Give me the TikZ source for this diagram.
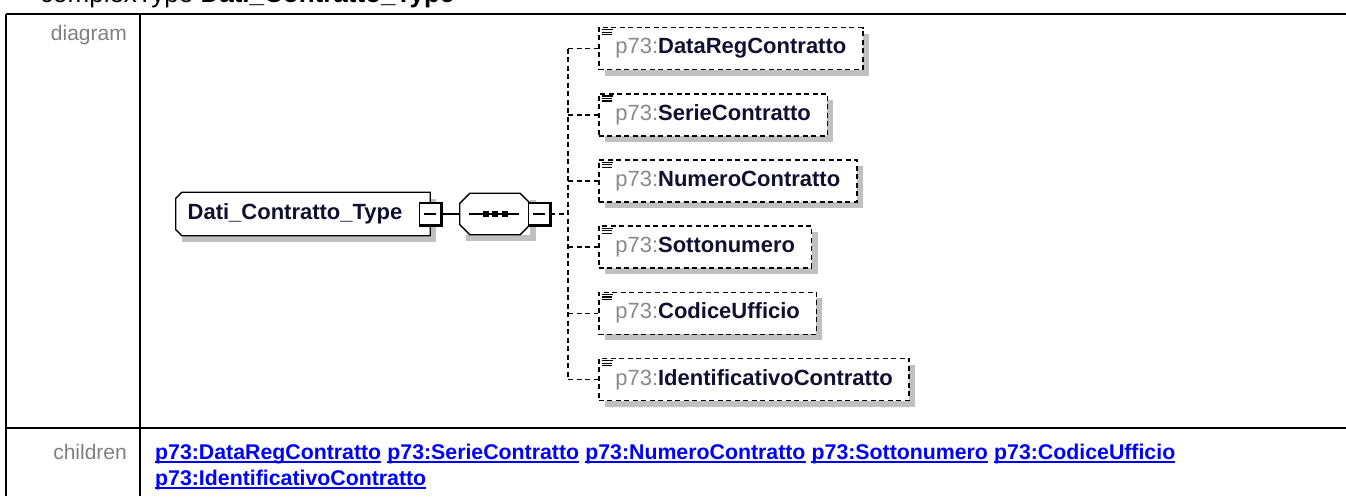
\documentclass[tikz,border=0pt]{standalone}
\usepackage{fontspec}
\setmainfont{Liberation Sans}
\usetikzlibrary{positioning,shadows}
\definecolor{shadowgray}{HTML}{C0C0C0}
\definecolor{labelgray}{HTML}{808080}
\definecolor{prefixgray}{HTML}{8A8A8A}
\definecolor{namedark}{HTML}{101030}
\definecolor{linkblue}{HTML}{0000FF}
\newcommand{\pfx}{{\color{prefixgray}\mdseries p73:}}
\begin{document}
\begin{tikzpicture}[x=1pt, y=-1pt,
  lbl/.style={inner sep=0, text=labelgray, font=\fontsize{21}{25}\selectfont},
  rootbox/.style={fill=white, inner sep=0, minimum width=254pt, minimum height=43pt,
    font=\fontsize{22}{26}\selectfont\bfseries, text=namedark,
    drop shadow={shadow xshift=6pt, shadow yshift=-6pt, fill=shadowgray, opacity=1}},
  seqbox/.style={fill=white, inner sep=0, minimum width=70pt, minimum height=41pt,
    drop shadow={shadow xshift=6pt, shadow yshift=-6pt, fill=shadowgray, opacity=1}},
  minusbox/.style={draw, line width=1.3pt, fill=white, inner sep=0, minimum width=21pt, minimum height=22pt},
  childbox/.style={draw, dashed, dash pattern=on 5pt off 3.5pt, line width=1.6pt, fill=white,
    inner xsep=16.5pt, inner ysep=0, minimum height=42pt, anchor=west,
    font=\fontsize{22}{26}\selectfont\bfseries, text=namedark,
    drop shadow={shadow xshift=6pt, shadow yshift=-6pt, fill=shadowgray, opacity=1}},
  conn/.style={dashed, dash pattern=on 5pt off 3.5pt, line width=1.6pt},
  lnk/.style={inner sep=0, text=linkblue, font=\fontsize{21.3}{25}\selectfont\bfseries}]
\useasboundingbox (0,0) rectangle (1346,496);
\fill[white] (0,0) rectangle (1346,496);

% table frame
\node[anchor=base west, inner sep=0, font=\fontsize{26}{30}\selectfont] (hdr) at (40,2.5) {complexType \textbf{Dati\_Contratto\_Type}};
\draw[line width=2.6pt] (6,14) -- (1346,14);
\draw[line width=2.6pt] (6,14) -- (6,496);
\draw[line width=2.6pt] (140,14) -- (140,496);
\draw[line width=2.6pt] (6,428) -- (1346,428);
\node[lbl, anchor=base east] (diaglbl) at (127,40) {diagram};
\node[lbl, anchor=base east] (chlbl) at (127,459) {children};

% root and sequence
\node[rootbox] (root) at (303,214) {Dati\_Contratto\_Type\kern16pt};
\draw[line width=1.3pt] ([xshift=6pt]root.north west) -- (root.north east) -- (root.south east)
  -- ([xshift=6pt]root.south west) -- ([yshift=6pt]root.south west) -- ([yshift=-6pt]root.north west) -- cycle;
\node[seqbox] (seq) at (495,214) {};
\draw[line width=1.3pt] ([xshift=10pt]seq.north west) -- ([xshift=-10pt]seq.north east) -- ([yshift=-10pt]seq.north east)
  -- ([yshift=10pt]seq.south east) -- ([xshift=-10pt]seq.south east) -- ([xshift=10pt]seq.south west)
  -- ([yshift=10pt]seq.south west) -- ([yshift=-10pt]seq.north west) -- cycle;
\draw[line width=1.3pt] ([xshift=9pt]seq.west) -- ([xshift=-11pt]seq.east);
\foreach \dx in {-9.5,0,9.5}
  \fill ([xshift=\dx pt]seq.center) +(-3pt,-3pt) rectangle +(3pt,3pt);
\node[minusbox] (rminus) at (430,214) {\rule{12pt}{1.5pt}};
\node[minusbox] (sminus) at (539,214) {\rule{12pt}{1.5pt}};
\foreach \m in {rminus,sminus}
  \draw[line width=1.5pt] ([xshift=1pt]\m.north east) -- ([xshift=1pt,yshift=-1pt]\m.south east) -- ([yshift=-1pt]\m.south west);
\draw[line width=1.3pt] (rminus.east) -- (seq.west);
\coordinate (bus) at (568,214);
\draw[conn] (sminus.east) -- (bus);

% children
\node[childbox] (c1) at (598,48.5) {\pfx DataRegContratto};
\node[childbox] (c2) at (598,114.7) {\pfx SerieContratto};
\node[childbox] (c3) at (598,180.9) {\pfx NumeroContratto};
\node[childbox] (c4) at (598,247.1) {\pfx Sottonumero};
\node[childbox] (c5) at (598,313.3) {\pfx CodiceUfficio};
\node[childbox] (c6) at (598,379.5) {\pfx IdentificativoContratto};
\draw[conn] (bus |- c1.west) -- (bus |- c6.west);
\foreach \i in {1,...,6} {
  \draw[conn] (bus |- c\i.west) -- (c\i.west);
  \foreach \dy/\len in {-3/11,-5.5/10,-8/10}
    \draw[line width=1.2pt] ([xshift=4pt,yshift=\dy pt]c\i.north west) -- ++(\len pt,0);
}

% links
\node[lnk, anchor=base west] (l1) at (155,459) {p73:DataRegContratto};
\node[lnk, base right=5.8pt of l1] (l2) {p73:SerieContratto};
\node[lnk, base right=5.8pt of l2] (l3) {p73:NumeroContratto};
\node[lnk, base right=5.8pt of l3] (l4) {p73:Sottonumero};
\node[lnk, base right=5.8pt of l4] (l5) {p73:CodiceUfficio};
\node[lnk, anchor=base west] (l6) at (155,485) {p73:IdentificativoContratto};
\foreach \i in {1,...,6}
  \draw[linkblue, line width=2pt] ([yshift=-3pt]l\i.base west) -- ([yshift=-3pt]l\i.base east);
\end{tikzpicture}
\end{document}
